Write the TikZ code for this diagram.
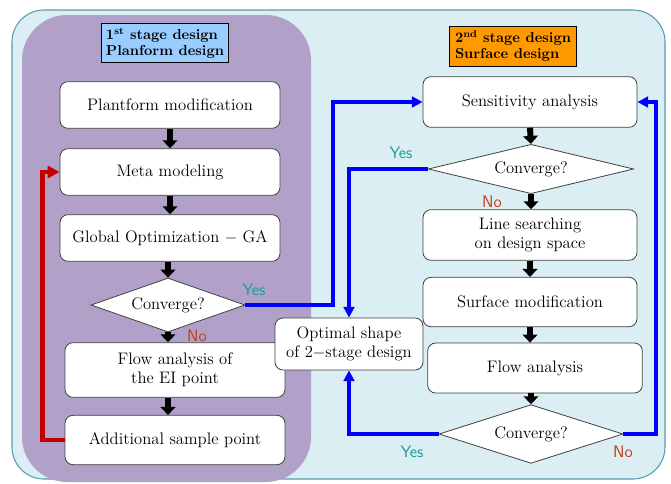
\documentclass[tikz,border=0pt]{standalone}
\usepackage{tikz}
\usetikzlibrary{shapes.geometric}
\usetikzlibrary{arrows.meta}

\definecolor{panelblue}{HTML}{DAEEF3}
\definecolor{paneledge}{HTML}{5B9BB0}
\definecolor{stagepurple}{HTML}{B1A0C7}
\definecolor{titleblue}{HTML}{99CCFF}
\definecolor{titleorange}{HTML}{FF9900}
\definecolor{yesteal}{HTML}{1A9A9A}
\definecolor{nored}{HTML}{C0401A}
\definecolor{loopred}{HTML}{C00000}

\tikzset{
  procbox/.style={draw=black!75, fill=white, rounded corners=6pt, line width=0.6pt,
    minimum width=165pt, minimum height=35pt, align=center, font=\fontsize{12.5pt}{14.5pt}\selectfont},
  decision/.style={draw=black!75, fill=white, diamond, shape aspect=3, inner sep=0pt, line width=0.6pt,
    font=\fontsize{12.5pt}{14.5pt}\selectfont},
  stagetitle/.style={draw=black, line width=0.6pt, minimum width=95pt, minimum height=29pt,
    align=left, font=\bfseries\fontsize{10.8pt}{12pt}\selectfont},
  downarrow/.style={line width=4.5pt, -{Triangle[width=11pt, length=6pt]}},
  yespath/.style={blue, line width=3pt, -{Triangle[width=8pt, length=8pt]}},
  looppath/.style={loopred, line width=3.6pt, -{Triangle[width=9pt, length=9pt]}},
  yeslabel/.style={yesteal, font=\sffamily\fontsize{12.5pt}{14pt}\selectfont},
  nolabel/.style={nored, font=\sffamily\fontsize{12.5pt}{14pt}\selectfont}
}

\begin{document}
\begin{tikzpicture}[x=0.75pt, y=-0.75pt]
    \useasboundingbox (0,0) rectangle (671,483);
    % panels
    \draw[fill=panelblue, draw=paneledge, line width=0.8pt, rounded corners=24pt] (12,10) rectangle (665,479);
    \fill[stagepurple, rounded corners=34pt] (22,15) rectangle (311,482);
    \node[stagetitle, fill=titleblue] (title1) at (165,43) {1\textsuperscript{st} stage design\\Planform design};
    \node[stagetitle, fill=titleorange] (title2) at (513,46) {2\textsuperscript{nd} stage design\\Surface design};

    % first stage
    \node[procbox] (plan) at (170,105) {Plantform modification};
    \node[procbox] (meta) at (170,172) {Meta modeling};
    \node[procbox] (glob) at (170,238) {Global Optimization $-$ GA};
    \node[decision, minimum width=115.5pt, minimum height=40.5pt] (conv1) at (168,305) {Converge?};
    \node[procbox, minimum height=41pt] (flow1) at (175,370) {Flow analysis of\\the EI point};
    \node[procbox, minimum height=37pt] (add) at (175,440) {Additional sample point};

    % second stage
    \node[procbox, minimum width=160.5pt, minimum height=38pt] (sens) at (530,102) {Sensitivity analysis};
    \node[decision, minimum width=154pt, minimum height=37pt] (conv2) at (531,169) {Converge?};
    \node[procbox, minimum width=160.5pt, minimum height=38pt] (line) at (530,235) {Line searching\\on design space};
    \node[procbox, minimum width=160.5pt, minimum height=37pt] (surf) at (530,302) {Surface modification};
    \node[procbox, minimum width=161pt, minimum height=37.5pt] (flow2) at (535,368) {Flow analysis};
    \node[decision, minimum width=138pt, minimum height=44pt] (conv3) at (531,434) {Converge?};

    \node[procbox, minimum width=111pt, minimum height=39pt] (opt) at (349,344) {Optimal shape\\of 2$-$stage design};

    % flow arrows
    \draw[downarrow] (plan.south) -- (meta.north);
    \draw[downarrow] (meta.south) -- (glob.north);
    \draw[downarrow] (glob.south -| conv1.north) -- (conv1.north);
    \draw[downarrow] (conv1.south) -- (conv1.south |- flow1.north);
    \draw[downarrow] (flow1.south -| conv1.south) -- (add.north -| conv1.south);
    \draw[downarrow] (sens.south) -- (conv2.north);
    \draw[downarrow] (conv2.south) -- (conv2.south |- line.north);
    \draw[downarrow] (line.south) -- (surf.north);
    \draw[downarrow] (surf.south) -- (surf.south |- flow2.north);
    \draw[downarrow] (flow2.south -| conv3.north) -- (conv3.north);

    % loops
    \draw[looppath] (add.west) -- ++(-22,0) |- (meta.west);
    \draw[yespath] (conv1.east) -- ++(88,0) |- (sens.west);
    \draw[yespath] (conv2.west) -| (opt.north);
    \draw[yespath] (conv3.west) -| (opt.south);
    \draw[yespath] (conv3.east) -- ++(33,0) |- (sens.east);

    % labels
    \node[yeslabel] (yes1) at (254,290) {Yes};
    \node[nolabel] (no1) at (197,336) {No};
    \node[yeslabel] (yes2) at (401,153) {Yes};
    \node[nolabel] (no2) at (492,202) {No};
    \node[yeslabel] (yes3) at (412,452) {Yes};
    \node[nolabel] (no3) at (623,452) {No};
\end{tikzpicture}
\end{document}
